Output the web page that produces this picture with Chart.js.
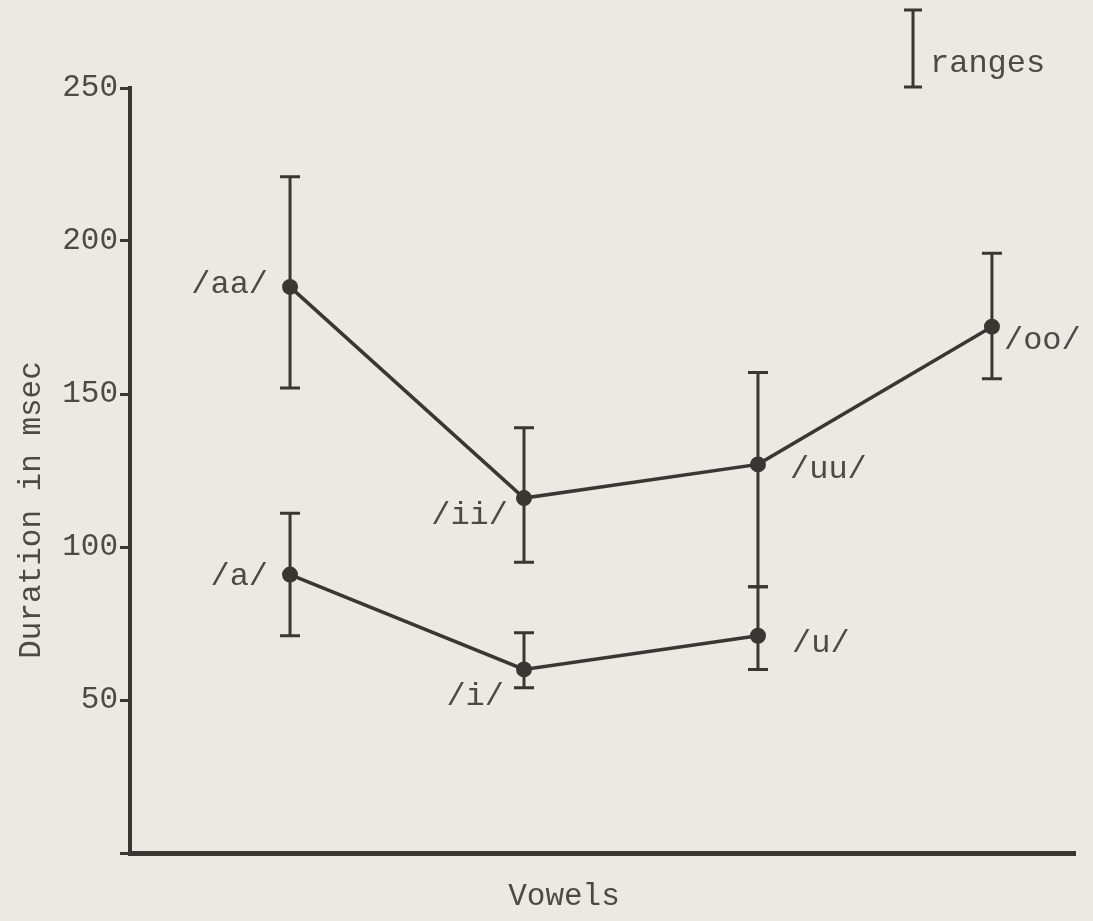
<!DOCTYPE html>
<html>
<head>
<meta charset="utf-8">
<script src="https://cdn.jsdelivr.net/npm/chart.js@4/dist/chart.umd.min.js"></script>
<style>
  body { margin: 0; background: #ece9e2; }
  canvas { display: block; }
</style>
</head>
<body>
<canvas id="vowelChart" width="1093" height="921"></canvas>
<script>
// vowel slots along the x axis
var vowelPos = [1, 2, 3, 4];

// long vowels (msec)
var longNames = ['/aa/', '/ii/', '/uu/', '/oo/'];
var longMean = [185, 116, 127, 172];
var longLow = [152, 95, 87, 155];
var longHigh = [221, 139, 157, 196];

// short vowels (msec)
var shortNames = ['/a/', '/i/', '/u/'];
var shortMean = [91, 60, 71];
var shortLow = [71, 54, 60];
var shortHigh = [111, 72, 87];

var yTicks = [0, 50, 100, 150, 200, 250];

var ink = '#3a3634';
var textCol = '#4d4947';
var mono = '"Liberation Mono", "DejaVu Sans Mono", monospace';

// where each vowel name sits relative to its dot: [dx, dy, align]
var nameOffsets = {
    '/aa/': [-22, -2, 'right'],
    '/ii/': [-16, 17, 'right'],
    '/uu/': [32, 5, 'left'],
    '/oo/': [12, 14, 'left'],
    '/a/': [-22, 2, 'right'],
    '/i/': [-20, 27, 'right'],
    '/u/': [34, 8, 'left']
};

function points(means) {
    var out = [];
    for (var i = 0; i < means.length; i++) {
        out.push({x: vowelPos[i], y: means[i]});
    }
    return out;
}

var rangeBars = {
    id: 'rangeBars',
    beforeDatasetsDraw: function(chart) {
        var ctx = chart.ctx;
        var xs = chart.scales.x, ys = chart.scales.y;
        ctx.save();
        ctx.strokeStyle = ink;
        ctx.lineWidth = 3;
        chart.data.datasets.forEach(function(ds) {
            ds.data.forEach(function(p, i) {
                var px = xs.getPixelForValue(p.x);
                var top = ys.getPixelForValue(ds.high[i]);
                var bot = ys.getPixelForValue(ds.low[i]);
                ctx.beginPath();
                ctx.moveTo(px, top); ctx.lineTo(px, bot);
                ctx.moveTo(px - 10, top); ctx.lineTo(px + 10, top);
                ctx.moveTo(px - 10, bot); ctx.lineTo(px + 10, bot);
                ctx.stroke();
            });
        });
        ctx.restore();
    },
    afterDatasetsDraw: function(chart) {
        var ctx = chart.ctx;
        ctx.save();
        ctx.fillStyle = textCol;
        ctx.font = '32px ' + mono;
        ctx.textBaseline = 'middle';
        chart.data.datasets.forEach(function(ds, d) {
            var meta = chart.getDatasetMeta(d);
            meta.data.forEach(function(el, i) {
                var o = nameOffsets[ds.names[i]];
                ctx.textAlign = o[2];
                ctx.fillText(ds.names[i], el.x + o[0], el.y + o[1]);
            });
        });

        // axis titles
        ctx.font = '31px ' + mono;
        ctx.textAlign = 'center';
        ctx.fillText('Vowels', 564, 897);
        ctx.save();
        ctx.translate(32, 510);
        ctx.rotate(-Math.PI / 2);
        ctx.fillText('Duration in msec', 0, 0);
        ctx.restore();

        // key in the top right corner
        ctx.strokeStyle = ink;
        ctx.lineWidth = 3;
        ctx.beginPath();
        ctx.moveTo(913, 10); ctx.lineTo(913, 87);
        ctx.moveTo(904, 10); ctx.lineTo(922, 10);
        ctx.moveTo(904, 87); ctx.lineTo(922, 87);
        ctx.stroke();
        ctx.font = '32px ' + mono;
        ctx.textAlign = 'left';
        ctx.textBaseline = 'alphabetic';
        ctx.fillText('ranges', 930, 72);
        ctx.restore();
    }
};

var ctx = document.getElementById('vowelChart');
new Chart(ctx, {
    type: 'line',
    data: {
        datasets: [
            {
                label: 'long',
                data: points(longMean),
                names: longNames, low: longLow, high: longHigh,
                borderColor: ink, borderWidth: 3.5,
                pointRadius: 8, pointBackgroundColor: ink, pointBorderWidth: 0,
                tension: 0, fill: false
            },
            {
                label: 'short',
                data: points(shortMean),
                names: shortNames, low: shortLow, high: shortHigh,
                borderColor: ink, borderWidth: 3.5,
                pointRadius: 8, pointBackgroundColor: ink, pointBorderWidth: 0,
                tension: 0, fill: false
            }
        ]
    },
    options: {
        responsive: false,
        animation: false,
        layout: { padding: { top: 88, right: 18, left: 0, bottom: 0 } },
        plugins: { legend: { display: false }, tooltip: { enabled: false } },
        scales: {
            x: {
                type: 'linear', min: 0.316, max: 4.355,
                grid: { display: false },
                ticks: { display: false },
                border: { display: true, color: ink, width: 5 },
                afterFit: function(s) { s.height = 68; }
            },
            y: {
                min: 0, max: 250,
                afterBuildTicks: function(s) {
                    s.ticks = yTicks.map(function(v) { return {value: v}; });
                },
                ticks: {
                    callback: function(v) { return v === 0 ? '' : v; },
                    font: { family: mono, size: 31 },
                    color: textCol,
                    padding: 2
                },
                grid: { drawOnChartArea: false, drawTicks: true, tickLength: 10, color: ink, lineWidth: 3 },
                border: { color: ink, width: 4 },
                afterFit: function(s) { s.width = 130; }
            }
        }
    },
    plugins: [rangeBars]
});
</script>
</body>
</html>
